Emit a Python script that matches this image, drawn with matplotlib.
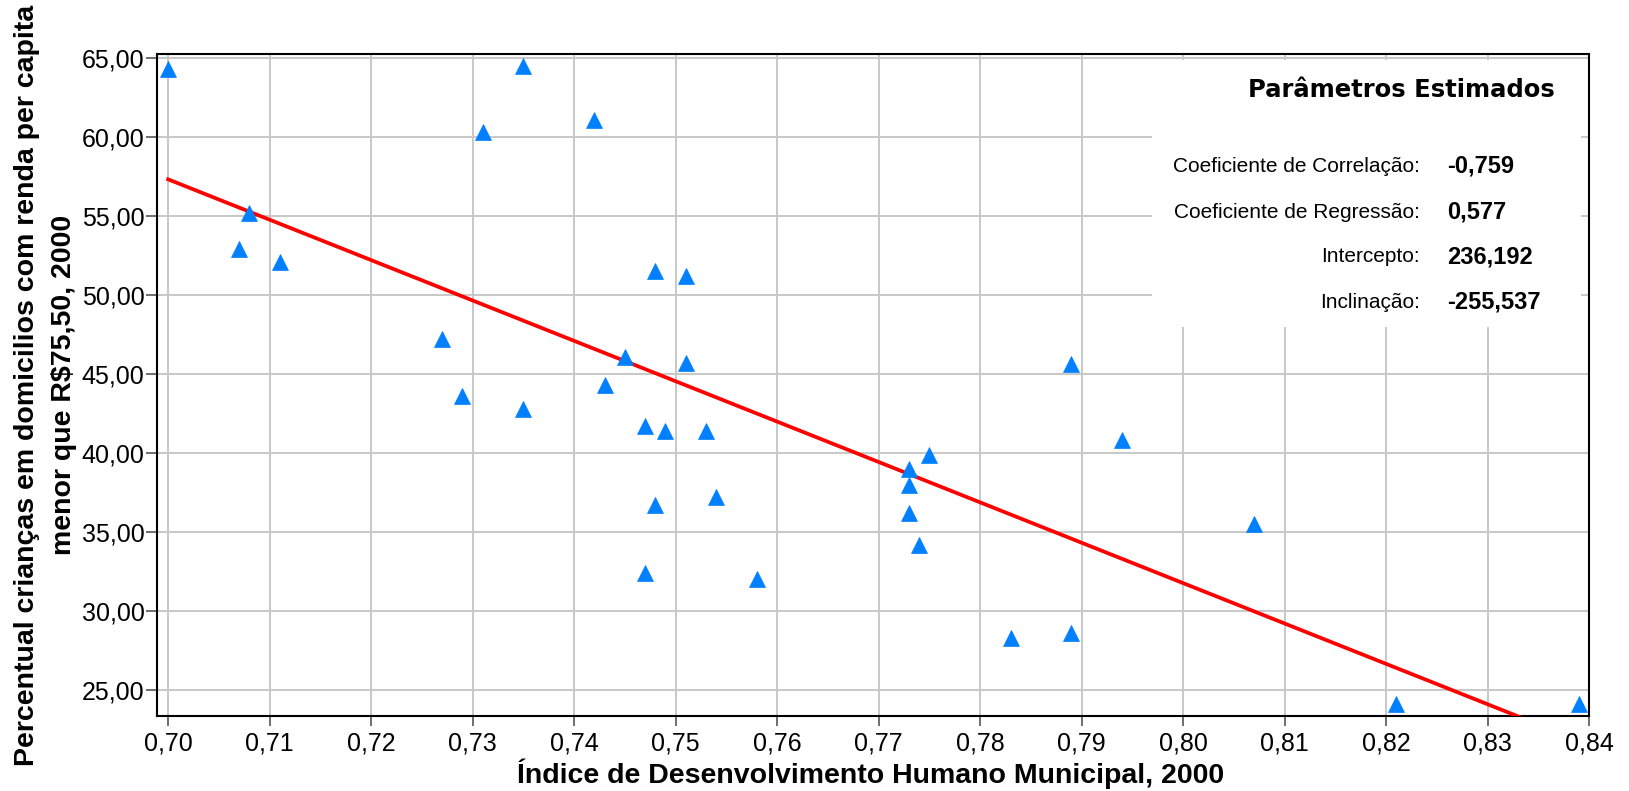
import numpy as np
import matplotlib
matplotlib.use("Agg")
import matplotlib.pyplot as plt
from matplotlib.patches import Rectangle
from matplotlib.ticker import FuncFormatter

plt.rcParams['font.family'] = ['Liberation Sans', 'DejaVu Sans']

# Data
idhm = [0.700, 0.735, 0.731, 0.742, 0.708, 0.707, 0.711, 0.727, 0.729, 0.735,
        0.745, 0.743, 0.748, 0.751, 0.751, 0.747, 0.749, 0.753, 0.748, 0.754,
        0.747, 0.758, 0.773, 0.773, 0.775, 0.773, 0.774, 0.783, 0.789, 0.789,
        0.794, 0.807, 0.821, 0.839]
pct_criancas = [64.3, 64.5, 60.3, 61.1, 55.2, 52.9, 52.1, 47.2, 43.6, 42.8,
                46.1, 44.3, 51.5, 51.2, 45.7, 41.7, 41.4, 41.4, 36.7, 37.2,
                32.4, 32.0, 39.0, 38.0, 39.9, 36.2, 34.2, 28.3, 28.6, 45.6,
                40.8, 35.5, 24.1, 24.1]

param_labels = ["Coeficiente de Correlação:", "Coeficiente de Regressão:",
                "Intercepto:", "Inclinação:"]
param_values = ["-0,759", "0,577", "236,192", "-255,537"]
intercepto = 236.192
inclinacao = -255.537

x_ticks = [0.70, 0.71, 0.72, 0.73, 0.74, 0.75, 0.76, 0.77, 0.78, 0.79,
           0.80, 0.81, 0.82, 0.83, 0.84]
y_ticks = [25, 30, 35, 40, 45, 50, 55, 60, 65]

W, H = 1629, 791
fig = plt.figure(figsize=(W / 100, H / 100), dpi=100)
ax = fig.add_axes([157 / W, 1 - 716 / H, (1589 - 157) / W, (716 - 54) / H])

# grid and frame
ax.set_axisbelow(True)
ax.grid(True, color='#c8c8c8', lw=1.4)
for s in ax.spines.values():
    s.set_linewidth(1.5)
    s.set_color('black')

# regression line
xl = np.array([0.70, 0.84])
ax.plot(xl, intercepto + inclinacao * xl, color='#ff0000', lw=2.7, zorder=3)

# points
ax.plot(idhm, pct_criancas, linestyle='none', marker='^', ms=11.5,
        color='#0080ff', mec='#0080ff', mew=0.5, zorder=4, clip_on=False)

ax.set_xlim(0.6989, 0.8400)
ax.set_ylim(23.35, 65.25)
ax.set_xticks(x_ticks)
ax.set_yticks(y_ticks)
ax.xaxis.set_major_formatter(FuncFormatter(lambda v, p: f"{v:.2f}".replace('.', ',')))
ax.yaxis.set_major_formatter(FuncFormatter(lambda v, p: f"{v:.2f}".replace('.', ',')))
ax.tick_params(axis='x', length=7, width=1.2, pad=4, labelsize=18, color='#555555')
ax.tick_params(axis='y', length=8, width=1.2, pad=1, labelsize=18, color='#555555')

# white box with the estimated parameters
ax.add_patch(Rectangle((0.695, 0.5876), 0.2994, 0.4034, transform=ax.transAxes,
                       facecolor='white', edgecolor='none', zorder=2))
fig.text(1555 / W, 1 - 90 / H, "Parâmetros Estimados", ha='right', va='center',
         fontsize=17.5, fontweight='bold', family='DejaVu Sans')
rows_y = [166, 212, 257, 302]
for lab, val, yy in zip(param_labels, param_values, rows_y):
    fig.text(1420 / W, 1 - yy / H, lab, ha='right', va='center', fontsize=15)
    fig.text(1447 / W, 1 - yy / H, val, ha='left', va='center', fontsize=17,
             fontweight='bold')

# axis titles
fig.text((516 + 1226) / 2 / W, 1 - 774 / H,
         "Índice de Desenvolvimento Humano Municipal, 2000",
         ha='center', va='center', fontsize=20.5, fontweight='bold')
fig.text(27 / W, 1 - 385 / H,
         "Percentual crianças em domicilios com renda per capita",
         rotation=90, ha='center', va='center', fontsize=20.5, fontweight='bold')
fig.text(64 / W, 1 - 385 / H, "menor que R$75,50, 2000",
         rotation=90, ha='center', va='center', fontsize=20.5, fontweight='bold')

fig.savefig("out.png", dpi=100, facecolor='white')
